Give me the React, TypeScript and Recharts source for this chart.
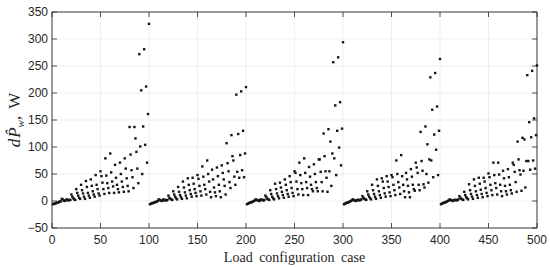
import { ScatterChart, Scatter, XAxis, YAxis, CartesianGrid, ReferenceArea } from "recharts";

const xTicks = [0, 50, 100, 150, 200, 250, 300, 350, 400, 450, 500];
const yTicks = [-50, 0, 50, 100, 150, 200, 250, 300, 350];

// dP_w per load case, one array per block of 100 cases
const block1 = [
  -6, -5, -5, -4,
  -3, -3, -2, -1, -1,
  4, 3, 1, 0, 1,
  3, 2, 1, 2, 2,
  12, 8, 5, 3, 2,
  22, 15, 10, 6, 4,
  30, 20, 14, 8, 4,
  37, 26, 15, 10, 6,
  40, 28, 18, 12, 8,
  48, 30, 22, 14, 10,
  55, 46, 34, 22, 13,
  79, 47, 33, 24, 15,
  88, 53, 36, 27, 15,
  67, 43, 30, 22, 16,
  71, 50, 36, 26, 17,
  79, 60, 42, 28, 18,
  137, 86, 57, 44, 24,
  137, 116, 91, 60, 33,
  272, 101, 205, 50, 138,
  281, 104, 212, 71, 161,
  328,
];

const block2 = [
  -6, -5, -4, -4,
  -3, -2, -2, -1, 0,
  3, 2, 1, 0, 1,
  3, 1, 2, 1, 2,
  10, 6, 4, 3, 2,
  18, 12, 8, 5, 3,
  26, 17, 11, 7, 4,
  36, 25, 16, 10, 5,
  42, 30, 20, 13, 8,
  43, 32, 22, 15, 9,
  48, 41, 28, 18, 10,
  64, 45, 30, 22, 12,
  75, 50, 36, 17, 7,
  58, 40, 25, 16, 9,
  62, 46, 30, 18, 7,
  66, 52, 40, 28, 12,
  107, 70, 55, 35, 24,
  122, 83, 75, 45, 30,
  197, 54, 124, 43, 85,
  203, 57, 130, 44, 88,
  211,
];

const block3 = [
  -6, -5, -4, -3,
  -3, -2, -1, 0, 1,
  3, 2, 1, 1, 0,
  3, 2, 2, 1, 2,
  10, 7, 4, 3, 2,
  20, 13, 8, 5, 3,
  32, 22, 14, 9, 5,
  34, 25, 17, 11, 6,
  40, 30, 20, 13, 8,
  46, 35, 24, 15, 9,
  55, 52, 36, 22, 12,
  71, 48, 33, 22, 11,
  79, 52, 35, 24, 11,
  63, 45, 30, 22, 18,
  68, 50, 35, 24, 18,
  77, 77, 54, 35, 18,
  125, 83, 55, 43, 17,
  133, 55, 110, 28, 88,
  257, 79, 177, 48, 130,
  266, 99, 183, 66, 134,
  294,
];

const block4 = [
  -6, -5, -4, -3,
  -3, -2, -1, 0, 1,
  3, 2, 1, 0, 1,
  2, 2, 1, 2, 3,
  9, 6, 4, 3, 2,
  18, 12, 8, 5, 3,
  30, 20, 13, 8, 4,
  40, 28, 18, 11, 6,
  42, 36, 24, 14, 8,
  46, 36, 26, 16, 9,
  48, 44, 30, 20, 11,
  75, 50, 35, 25, 13,
  85, 46, 30, 18, 7,
  52, 40, 28, 16, 7,
  59, 45, 30, 22, 19,
  71, 62, 52, 30, 20,
  128, 74, 56, 31, 25,
  138, 50, 105, 34, 77,
  229, 75, 169, 44, 123,
  237, 95, 175, 48, 130,
  263,
];

const block5 = [
  -6, -5, -4, -3,
  -3, -2, -1, 0, 1,
  3, 2, 1, 0, 1,
  2, 2, 1, 2, 3,
  9, 6, 4, 3, 2,
  17, 11, 7, 5, 3,
  31, 20, 13, 8, 4,
  40, 28, 18, 11, 6,
  43, 32, 21, 13, 7,
  43, 36, 24, 15, 9,
  51, 44, 30, 20, 11,
  71, 48, 33, 24, 12,
  71, 49, 30, 18, 9,
  56, 42, 28, 18, 12,
  59, 44, 30, 20, 14,
  71, 67, 54, 35, 17,
  110, 77, 57, 49, 19,
  117, 56, 114, 25, 74,
  233, 74, 146, 58, 118,
  241, 75, 153, 60, 122,
  251,
];

const blocks = [block1, block2, block3, block4, block5];

const points = blocks.flatMap((vals, b) =>
  vals.map((v, i) => ({ loadCase: b * 100 + i + 1, dp: v }))
);

const W = 550;
const H = 267;
const margin = { top: 12, right: 13, left: 0, bottom: 0 };
const Y_AXIS_W = 52;
const X_AXIS_H = 39;
const PLOT_TOP = margin.top;
const PLOT_BOTTOM = H - margin.bottom - X_AXIS_H;
const PLOT_LEFT = margin.left + Y_AXIS_W;
const PLOT_RIGHT = W - margin.right;

const INK = "#262626";
const SANS = "'Liberation Sans', Arial, sans-serif";
const SERIF = "'Liberation Serif', 'Times New Roman', serif";

const fmt = (v: number) => (v < 0 ? `\u2212${-v}` : `${v}`);

const BottomTick = ({ x, payload }: any) => (
  <g>
    <line x1={x} y1={PLOT_BOTTOM} x2={x} y2={PLOT_BOTTOM - 5} stroke={INK} strokeWidth={0.8} />
    <line x1={x} y1={PLOT_TOP} x2={x} y2={PLOT_TOP + 5} stroke={INK} strokeWidth={0.8} />
    <text x={x} y={PLOT_BOTTOM + 16} textAnchor="middle" fontFamily={SANS} fontSize={12} fill={INK}>
      {fmt(payload.value)}
    </text>
  </g>
);

const LeftTick = ({ y, payload }: any) => (
  <g>
    <line x1={PLOT_LEFT} y1={y} x2={PLOT_LEFT + 5} y2={y} stroke={INK} strokeWidth={0.8} />
    <line x1={PLOT_RIGHT} y1={y} x2={PLOT_RIGHT - 5} y2={y} stroke={INK} strokeWidth={0.8} />
    <text x={PLOT_LEFT - 4} y={y} dy="0.36em" textAnchor="end" fontFamily={SANS} fontSize={12} fill={INK}>
      {fmt(payload.value)}
    </text>
  </g>
);

const XTitle = () => (
  <text
    x={(PLOT_LEFT + PLOT_RIGHT) / 2}
    y={PLOT_BOTTOM + 34}
    textAnchor="middle"
    fontFamily={SERIF}
    fontSize={14}
    wordSpacing={3}
    fill={INK}
  >
    Load configuration case
  </text>
);

const YTitle = () => {
  const cx = 20;
  const cy = (PLOT_TOP + PLOT_BOTTOM) / 2;
  return (
    <text
      x={cx}
      y={cy}
      transform={`rotate(-90 ${cx} ${cy})`}
      textAnchor="middle"
      fontFamily={SERIF}
      fontSize={17}
      fill={INK}
    >
      <tspan fontStyle="italic">d</tspan>
      <tspan fontStyle="italic" dx={1}>{"P\u0302"}</tspan>
      <tspan fontStyle="italic" fontSize={11} dy={4}>w</tspan>
      <tspan dy={-4}>,</tspan>
      <tspan dx={7}>W</tspan>
    </text>
  );
};

const Dot = ({ cx, cy }: any) => (
  <rect x={cx - 1.2} y={cy - 1.2} width={2.4} height={2.4} fill="#151515" />
);

export default function App() {
  return (
    <div style={{ position: "absolute", left: 0, top: 0, background: "#fff" }}>
      <ScatterChart width={W} height={H} margin={margin}>
        <CartesianGrid stroke="#ebebeb" strokeWidth={0.8} />
        <XAxis
          type="number"
          dataKey="loadCase"
          domain={[0, 500]}
          ticks={xTicks}
          height={X_AXIS_H}
          tickSize={0}
          tickMargin={0}
          tickLine={false}
          axisLine={false}
          tick={<BottomTick />}
          interval={0}
          label={{ content: <XTitle /> }}
        />
        <YAxis
          type="number"
          dataKey="dp"
          domain={[-50, 350]}
          ticks={yTicks}
          width={Y_AXIS_W}
          tickSize={0}
          tickMargin={0}
          tickLine={false}
          axisLine={false}
          tick={<LeftTick />}
          interval={0}
          label={{ content: <YTitle /> }}
        />
        <ReferenceArea
          x1={0}
          x2={500}
          y1={-50}
          y2={350}
          fill="none"
          stroke={INK}
          strokeWidth={0.9}
          fillOpacity={0}
          ifOverflow="visible"
        />
        <Scatter data={points} shape={<Dot />} isAnimationActive={false} />
      </ScatterChart>
    </div>
  );
}
